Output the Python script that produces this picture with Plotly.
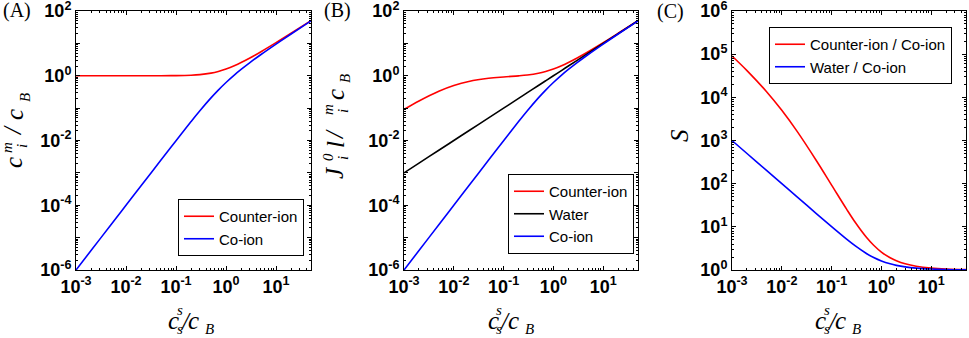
import plotly.graph_objects as go

W, H = 969, 338

# ---------------- data ----------------
x_ratio = [0.001, 0.002, 0.005, 0.01, 0.02, 0.05, 0.1, 0.2, 0.3, 0.5, 0.7,
           1, 1.5, 2, 3, 5, 10, 20, 50]

# Panel A: c_i^m / c_B
a_counter = [1.0, 1.0, 1.0, 1.0001, 1.0004, 1.0025, 1.0099, 1.0385, 1.083, 1.207,
             1.360, 1.618, 2.081, 2.562, 3.541, 5.525, 10.51, 20.5, 50.5]
a_coion = [1.0e-6, 4.0e-6, 2.5e-5, 1.0e-4, 4.0e-4, 2.49e-3, 9.9e-3, 0.0385, 0.0831,
           0.207, 0.360, 0.618, 1.081, 1.562, 2.541, 4.525, 9.51, 19.5, 49.5]

# Panel B: J_i^0 l / D_i^m c_B
b_counter = [0.0909, 0.1667, 0.3333, 0.5001, 0.6671, 0.8358, 0.919, 0.991, 1.051,
             1.187, 1.346, 1.608, 2.074, 2.557, 3.538, 5.523, 10.51, 20.5, 50.5]
b_water = [0.001, 0.002, 0.005, 0.01, 0.02, 0.05, 0.1, 0.2, 0.3, 0.5, 0.7,
           1, 1.5, 2, 3, 5, 10, 20, 50]
b_coion = [1.0e-6, 4.0e-6, 2.5e-5, 1.0e-4, 4.0e-4, 2.49e-3, 9.9e-3, 0.0385, 0.0831,
           0.207, 0.360, 0.618, 1.081, 1.562, 2.541, 4.525, 9.51, 19.5, 49.5]

# Panel C: selectivity S
c_counter_coion = [90900, 41670, 13330, 5001, 1668, 335, 92.8, 25.7, 12.6, 5.73,
                   3.74, 2.60, 1.92, 1.637, 1.392, 1.221, 1.105, 1.051, 1.020]
c_water_coion = [1000, 500, 200, 100, 50, 20.05, 10.1, 5.19, 3.61, 2.414, 1.943,
                 1.618, 1.388, 1.281, 1.181, 1.105, 1.051, 1.025, 1.010]

# tick labels
x_tickvals = [1e-3, 1e-2, 1e-1, 1, 10]
x_ticktext = ["10<sup>-3</sup>", "10<sup>-2</sup>", "10<sup>-1</sup>", "10<sup>0</sup>", "10<sup>1</sup>"]
yab_tickvals = [1e-6, 1e-5, 1e-4, 1e-3, 1e-2, 1e-1, 1, 10, 100]
yab_ticktext = ["10<sup>-6</sup>", "", "10<sup>-4</sup>", "", "10<sup>-2</sup>", "",
                "10<sup>0</sup>", "", "10<sup>2</sup>"]
yc_tickvals = [1, 10, 100, 1e3, 1e4, 1e5, 1e6]
yc_ticktext = ["10<sup>0</sup>", "10<sup>1</sup>", "10<sup>2</sup>", "10<sup>3</sup>",
               "10<sup>4</sup>", "10<sup>5</sup>", "10<sup>6</sup>"]

RED = "#ff0000"
BLUE = "#0000ff"
BLACK = "#000000"
SANS = "Liberation Sans, Arial, sans-serif"
SERIF = "Liberation Serif, Times New Roman, serif"


def minor_vals(lo, hi):
    vals = []
    for k in range(lo, hi + 1):
        for m in range(2, 10):
            vals.append(m * 10.0 ** k)
    return vals


def px(x):
    return x / W


def py(y):
    return 1 - y / H


fig = go.Figure()

LW = 1.6
fig.add_trace(go.Scatter(x=x_ratio, y=a_counter, mode="lines", name="Counter-ion",
                         line=dict(color=RED, width=LW, shape="spline"),
                         xaxis="x", yaxis="y", legend="legend"))
fig.add_trace(go.Scatter(x=x_ratio, y=a_coion, mode="lines", name="Co-ion",
                         line=dict(color=BLUE, width=LW, shape="spline"),
                         xaxis="x", yaxis="y", legend="legend"))

fig.add_trace(go.Scatter(x=x_ratio, y=b_counter, mode="lines", name="Counter-ion",
                         line=dict(color=RED, width=LW, shape="spline"),
                         xaxis="x2", yaxis="y2", legend="legend2"))
fig.add_trace(go.Scatter(x=x_ratio, y=b_water, mode="lines", name="Water",
                         line=dict(color=BLACK, width=LW, shape="spline"),
                         xaxis="x2", yaxis="y2", legend="legend2"))
fig.add_trace(go.Scatter(x=x_ratio, y=b_coion, mode="lines", name="Co-ion",
                         line=dict(color=BLUE, width=LW, shape="spline"),
                         xaxis="x2", yaxis="y2", legend="legend2"))

fig.add_trace(go.Scatter(x=x_ratio, y=c_counter_coion, mode="lines", name="Counter-ion / Co-ion",
                         line=dict(color=RED, width=LW, shape="spline"),
                         xaxis="x3", yaxis="y3", legend="legend3"))
fig.add_trace(go.Scatter(x=x_ratio, y=c_water_coion, mode="lines", name="Water / Co-ion",
                         line=dict(color=BLUE, width=LW, shape="spline"),
                         xaxis="x3", yaxis="y3", legend="legend3"))

tickfont = dict(family=SANS, size=18, color="black", weight="bold")


def axis(domain, rng, tickvals, ticktext, minor, anchor):
    return dict(type="log", domain=domain, range=rng, anchor=anchor, automargin=False,
                showline=True, linecolor="black", linewidth=1, mirror="ticks",
                ticks="inside", ticklen=4, tickwidth=1, tickcolor="black",
                showgrid=False, zeroline=False, ticklabeloverflow="allow",
                tickmode="array", tickvals=tickvals, ticktext=ticktext,
                tickfont=tickfont,
                minor=dict(ticks="inside", ticklen=2, tickwidth=1, tickcolor="black",
                           tickmode="array", tickvals=minor, showgrid=False))


ydom = [py(270), py(11)]
xdomA = [px(76), px(311)]
xdomB = [px(404), px(638)]
xdomC = [px(732), px(966)]
xr = [-3, 1.699]

fig.update_layout(
    width=W, height=H,
    margin=dict(l=0, r=0, t=0, b=0, autoexpand=False),
    paper_bgcolor="white", plot_bgcolor="white",
    xaxis=axis(xdomA, xr, x_tickvals, x_ticktext, minor_vals(-3, 1), "y"),
    yaxis=axis(ydom, [-6, 2], yab_tickvals, yab_ticktext, minor_vals(-6, 1), "x"),
    xaxis2=axis(xdomB, xr, x_tickvals, x_ticktext, minor_vals(-3, 1), "y2"),
    yaxis2=axis(ydom, [-6, 2], yab_tickvals, yab_ticktext, minor_vals(-6, 1), "x2"),
    xaxis3=axis(xdomC, xr, x_tickvals, x_ticktext, minor_vals(-3, 1), "y3"),
    yaxis3=axis(ydom, [0, 6], yc_tickvals, yc_ticktext, minor_vals(0, 5), "x3"),
    showlegend=True,
)

legfont = dict(family=SANS, size=15, color="black")
leg_common = dict(font=legfont, bgcolor="white", bordercolor="black", borderwidth=1,
                  xref="paper", yref="paper", itemwidth=30, tracegroupgap=0)
fig.update_layout(
    legend=dict(x=px(304), y=py(256), xanchor="right", yanchor="bottom", **leg_common),
    legend2=dict(x=px(634), y=py(254), xanchor="right", yanchor="bottom", **leg_common),
    legend3=dict(x=px(952), y=py(27), xanchor="right", yanchor="top", **leg_common),
)

ann = []


def t(x, y, s, size, angle=0, family=SERIF, italic=True):
    txt = "<i>" + s + "</i>" if italic else s
    ann.append(dict(x=px(x), y=py(y), xref="paper", yref="paper", text=txt,
                    showarrow=False, xanchor="center", yanchor="middle",
                    textangle=angle, font=dict(family=family, size=size, color="black")))


BIG, SM = 25, 15

# x-axis titles: c_s^s / c_B
for x0 in (173, 493, 820):
    t(x0, 320, "c", BIG)
    t(x0 + 6.5, 310, "s", SM)
    t(x0 + 6.5, 329, "s", SM)
    t(x0 + 12, 321, "/", BIG)
    t(x0 + 20, 320, "c", BIG)
    t(x0 + 36, 329, "B", SM)

# y title A: c_i^m / c_B
t(13, 163, "c", BIG, -90)
t(7, 148, "m", SM, -90)
t(22, 146, "i", SM, -90)
t(12, 131, "/", BIG, -90)
t(14, 115, "c", BIG, -90)
t(25, 98, "B", SM, -90)

# y title B: J_i^0 l / _i^m c_B
t(335, 173, "J", BIG, -90)
t(328, 157, "0", SM, -90)
t(343, 158, "i", SM, -90)
t(335, 145, "l", BIG, -90)
t(335, 135, "/", BIG, -90)
t(328, 110, "m", SM, -90)
t(343, 111, "i", SM, -90)
t(335, 95, "c", BIG, -90)
t(345, 79, "B", SM, -90)

# y title C
t(679, 136, "S", BIG, -90)

# panel labels
t(17, 10, "(A)", 20, italic=False)
t(337, 10, "(B)", 20, italic=False)
t(670, 11, "(C)", 20, italic=False)

fig.update_layout(annotations=ann)

fig.write_html("out.html", config={"displayModeBar": False},
               post_script="document.body.style.margin='0px';document.body.style.overflow='hidden';")
